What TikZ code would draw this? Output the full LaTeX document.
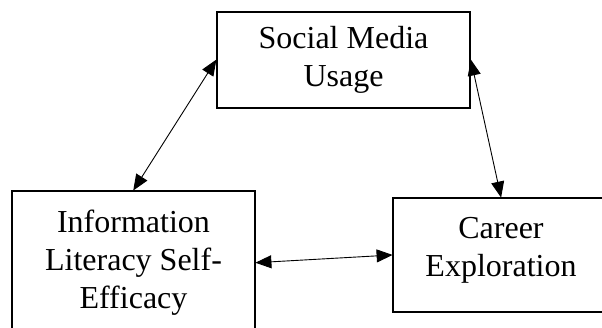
\documentclass[tikz,border=0pt]{standalone}
\usepackage{fontspec}
\setmainfont{Liberation Serif}
\usetikzlibrary{arrows.meta}
\begin{document}
\begin{tikzpicture}[x=1pt,y=-1pt,
  box/.style={draw, line width=1.8pt, inner sep=0pt, align=center,
    font=\fontsize{32}{38}\selectfont},
  link/.style={line width=0.9pt, {Triangle[length=16pt,width=13pt]}-{Triangle[length=16pt,width=13pt]}, shorten <=-0.5pt, shorten >=-0.5pt}]
\useasboundingbox (0,0) rectangle (602,328);
\clip (0,0) rectangle (602,328);
\node[box, minimum width=253pt, minimum height=96pt] (social) at (343.5,60) {Social Media\\Usage};
\node[box, minimum width=243pt, minimum height=143.4pt] (info) at (133.5,262.7) {Information\\Literacy Self-\\Efficacy};
\node[box, minimum width=216pt, minimum height=114pt, text depth=17pt] (career) at (501,255) {Career\\Exploration};
\draw[link] (social.west) -- (info.north);
\draw[link] (social.east) -- (career.north);
\draw[link] (info.east) -- (career.west);
\end{tikzpicture}
\end{document}
